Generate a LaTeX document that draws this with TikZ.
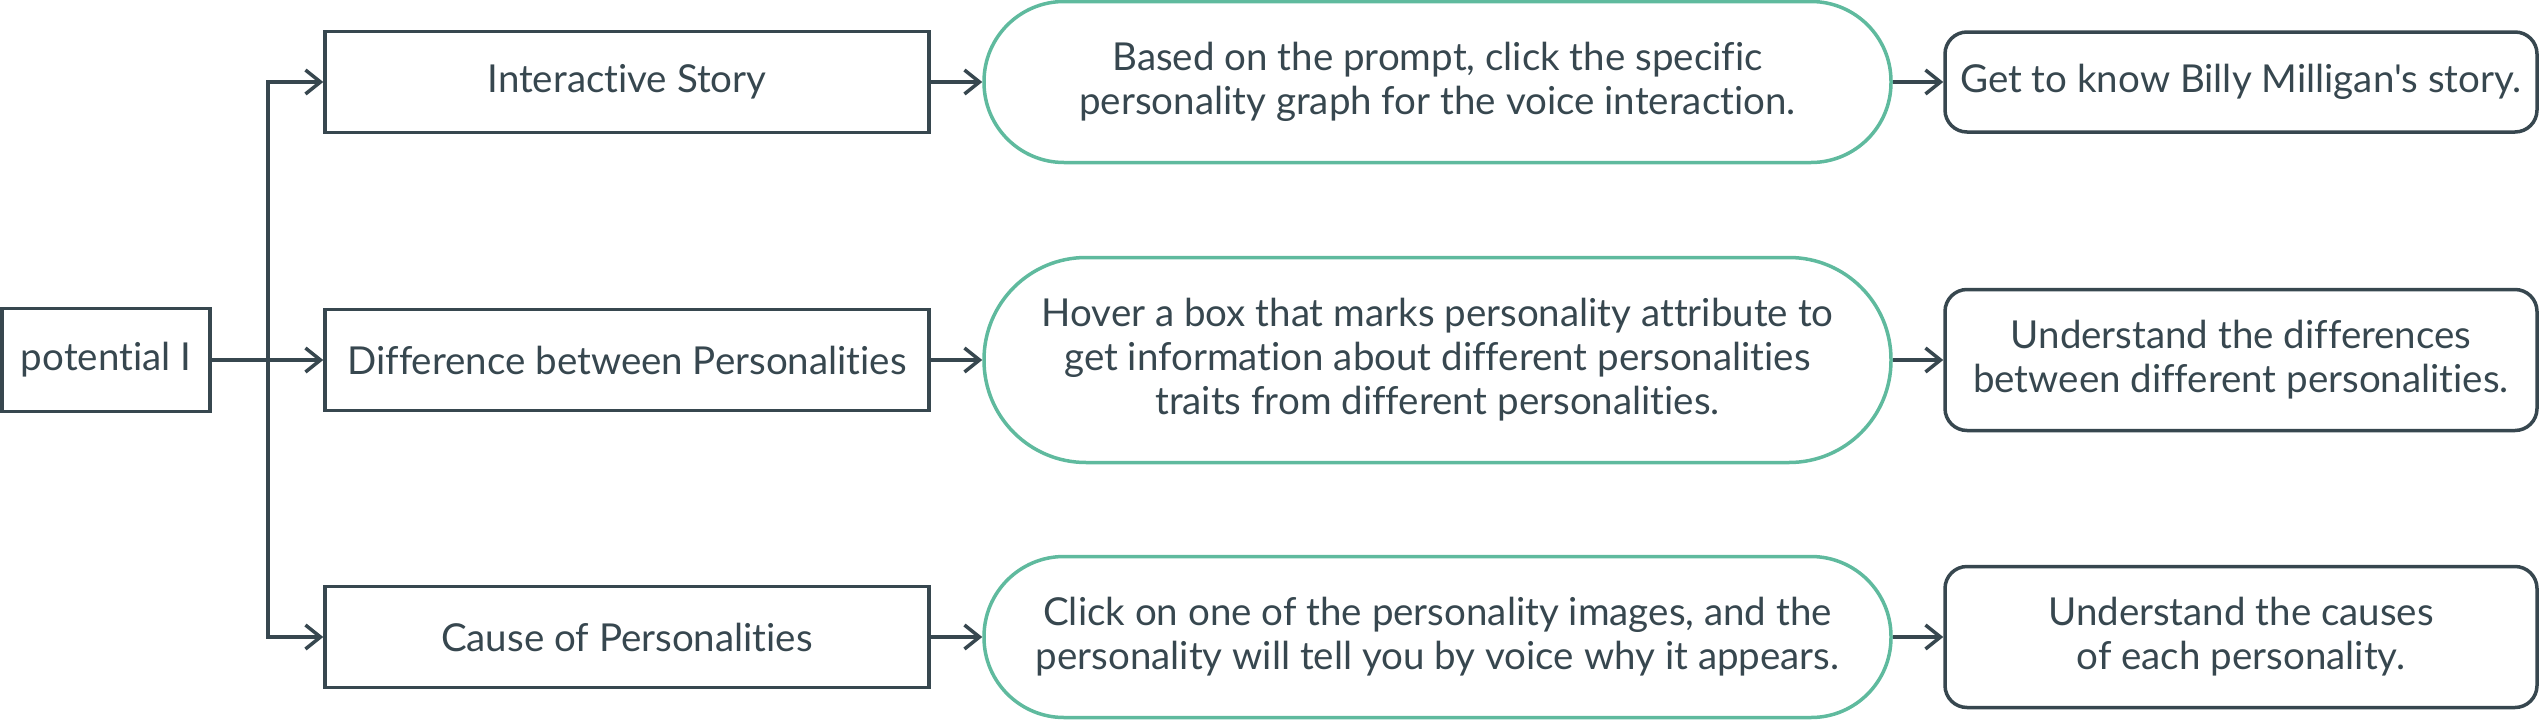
\documentclass[tikz,border=0pt]{standalone}
\usepackage{fontspec}
\newfontfamily\lato{Lato}[RawFeature={-liga}]
\usetikzlibrary{arrows.meta}
\definecolor{ink}{HTML}{37474F}
\definecolor{mint}{HTML}{5FBA9E}
\begin{document}
\begin{tikzpicture}[x=1pt,y=-1pt,
  every node/.style={font=\lato\fontsize{38.5}{44}\selectfont, text=ink, align=center, inner sep=0pt},
  sqbox/.style={draw=ink, line width=3.5pt, rectangle, minimum height=101pt},
  stad/.style={draw=mint, line width=3.5pt, rectangle, minimum width=907pt},
  rbox/.style={draw=ink, line width=3.5pt, rectangle, rounded corners=22pt, minimum width=592pt},
  arr/.style={draw=ink, line width=3.5pt, -{Straight Barb[length=15pt,width=24pt,line width=3.5pt]}}
]
\useasboundingbox (0,0) rectangle (2540,720);
\node[sqbox, minimum width=208pt, minimum height=103pt] (p) at (106,360) {potential I};
\node[sqbox, minimum width=604pt] (b1) at (627,82) {Interactive Story};
\node[sqbox, minimum width=604pt] (b2) at (627,360) {Difference between Personalities};
\node[sqbox, minimum width=604pt] (b3) at (627,637) {Cause of Personalities};
\node[stad, minimum height=161pt, rounded corners=80pt] (s1) at (1437.5,82) {Based on the prompt, click the specific\\personality graph for the voice interaction.};
\node[stad, minimum height=205pt, rounded corners=102pt] (s2) at (1437.5,360) {Hover a box that marks personality attribute to\\get information about different personalities\\traits from different personalities.};
\node[stad, minimum height=161pt, rounded corners=80pt] (s3) at (1437.5,637) {Click on one of the personality images, and the\\personality will tell you by voice why it appears.};
\node[rbox, minimum height=100pt] (f1) at (2241,82) {Get to know Billy Milligan's story.};
\node[rbox, minimum height=141pt] (f2) at (2241,360) {Understand the differences\\between different personalities.};
\node[rbox, minimum height=141pt] (f3) at (2241,637) {Understand the causes\\of each personality.};
\coordinate (t) at (268,360);
\draw[arr] (p.east) -- (b2.west);
\draw[arr] (t) |- (b1.west);
\draw[arr] (t) |- (b3.west);
\draw[arr] (b1.east) -- (s1.west);
\draw[arr] (b2.east) -- (s2.west);
\draw[arr] (b3.east) -- (s3.west);
\draw[arr] (s1.east) -- (f1.west);
\draw[arr] (s2.east) -- (f2.west);
\draw[arr] (s3.east) -- (f3.west);
\end{tikzpicture}
\end{document}
